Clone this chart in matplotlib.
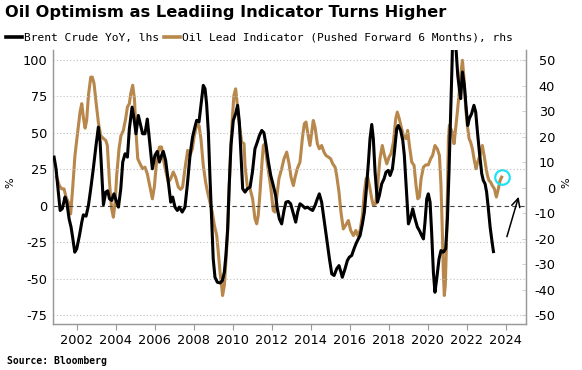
import matplotlib
matplotlib.use("Agg")
import matplotlib.pyplot as plt

plt.rcParams['font.family'] = ['DejaVu Sans']
plt.rcParams['axes.unicode_minus'] = False

# Brent crude YoY % (left axis)
brent_years = [2000.84, 2000.94, 2001.06, 2001.15, 2001.26, 2001.40, 2001.49, 2001.61, 2001.71, 2001.79,
               2001.90, 2002.00, 2002.14, 2002.26, 2002.34, 2002.48, 2002.60, 2002.72, 2002.85, 2002.99,
               2003.11, 2003.20, 2003.28, 2003.37, 2003.49, 2003.59, 2003.68, 2003.79, 2003.91, 2004.02,
               2004.14, 2004.26, 2004.36, 2004.48, 2004.60, 2004.70, 2004.84, 2004.94, 2005.04, 2005.16,
               2005.28, 2005.38, 2005.50, 2005.62, 2005.76, 2005.88, 2006.01, 2006.13, 2006.24, 2006.35,
               2006.44, 2006.56, 2006.70, 2006.82, 2006.92, 2007.04, 2007.16, 2007.26, 2007.41, 2007.55,
               2007.67, 2007.81, 2007.94, 2008.06, 2008.15, 2008.27, 2008.37, 2008.49, 2008.58, 2008.66,
               2008.75, 2008.83, 2008.92, 2009.00, 2009.09, 2009.21, 2009.35, 2009.47, 2009.57, 2009.65,
               2009.74, 2009.82, 2009.91, 2010.03, 2010.15, 2010.25, 2010.34, 2010.51, 2010.63, 2010.75,
               2010.89, 2011.01, 2011.14, 2011.26, 2011.37, 2011.49, 2011.60, 2011.71, 2011.83, 2011.95,
               2012.08, 2012.20, 2012.29, 2012.39, 2012.51, 2012.63, 2012.73, 2012.85, 2012.97, 2013.11,
               2013.23, 2013.33, 2013.45, 2013.57, 2013.71, 2013.83, 2013.96, 2014.10, 2014.22, 2014.34,
               2014.44, 2014.56, 2014.68, 2014.82, 2014.96, 2015.08, 2015.20, 2015.33, 2015.45, 2015.55,
               2015.62, 2015.76, 2015.88, 2015.98, 2016.10, 2016.22, 2016.32, 2016.44, 2016.53, 2016.65,
               2016.75, 2016.84, 2016.96, 2017.04, 2017.13, 2017.21, 2017.30, 2017.42, 2017.52, 2017.64,
               2017.76, 2017.86, 2017.98, 2018.07, 2018.19, 2018.29, 2018.41, 2018.49, 2018.61, 2018.72,
               2018.80, 2018.89, 2019.01, 2019.13, 2019.23, 2019.35, 2019.47, 2019.57, 2019.69, 2019.78,
               2019.86, 2019.95, 2020.03, 2020.12, 2020.20, 2020.29, 2020.37, 2020.46, 2020.58, 2020.68,
               2020.80, 2020.92, 2021.01, 2021.09, 2021.18, 2021.25, 2021.33, 2021.45, 2021.54, 2021.62,
               2021.69, 2021.78, 2021.88, 2021.96, 2022.05, 2022.13, 2022.25, 2022.37, 2022.46, 2022.55,
               2022.65, 2022.77, 2022.85, 2022.94, 2023.02, 2023.11, 2023.20, 2023.30, 2023.37]
brent_yoy = [33.4, 25.4, 9.4, -3.2, -2.0, 6.0, 2.5, -9.0, -14.6, -21.5,
             -31.8, -29.5, -20.4, -11.2, -6.2, -7.1, 0.2, 11.7, 25.4, 41.4,
             54.0, 43.7, 23.0, 0.7, 9.4, 10.3, 4.8, 3.7, 8.2, 3.7,
             -0.9, 11.7, 30.0, 35.7, 33.4, 52.9, 67.7, 59.7, 49.4, 62.0,
             55.1, 49.4, 49.4, 59.5, 41.4, 25.4, 34.6, 37.3, 30.0, 34.6,
             37.3, 31.1, 16.2, 2.5, 6.0, -0.9, -3.2, -0.9, -4.3, -0.9,
             14.0, 34.6, 47.1, 54.0, 58.6, 57.4, 68.9, 82.6, 80.3, 70.0,
             50.6, 20.8, -8.9, -36.4, -49.0, -52.4, -52.9, -51.3, -45.5, -34.0,
             -15.8, 14.0, 41.4, 58.6, 63.2, 68.9, 57.4, 11.7, 9.4, 11.7,
             12.8, 23.1, 39.1, 43.7, 48.3, 51.7, 50.1, 41.4, 30.0, 20.8,
             14.0, 7.1, -2.1, -8.9, -12.4, -3.2, 2.5, 3.0, 1.4, -5.5,
             -11.2, -4.3, 1.4, 0.2, -1.6, -0.9, -2.1, -3.2, 0.2, 4.8,
             8.2, 2.5, -8.9, -22.7, -36.4, -46.7, -47.8, -43.2, -41.0, -45.5,
             -49.0, -43.2, -37.5, -35.2, -34.1, -29.5, -26.1, -22.7, -20.4, -12.4,
             -4.3, 9.4, 30.0, 46.0, 55.8, 46.0, 23.1, 2.5, 7.1, 15.1,
             18.5, 23.1, 24.3, 20.8, 25.4, 36.8, 52.9, 55.1, 51.7, 44.9,
             34.6, 14.0, -12.4, -7.8, -2.1, -8.9, -14.6, -16.9, -20.4, -22.7,
             -11.2, 4.8, 8.2, 2.5, -18.0, -45.5, -59.3, -50.1, -36.4, -30.7,
             -31.8, -29.5, -8.9, 23.1, 64.3, 98.6, 150.0, 107.8, 89.5, 80.3,
             73.5, 91.8, 82.6, 68.9, 55.1, 59.7, 63.2, 68.9, 64.3, 50.6,
             36.8, 22.0, 17.4, 15.1, 9.4, -2.1, -14.6, -24.9, -31.4]

# Oil lead indicator, pushed forward 6 months (right axis)
lead_years = [2000.97, 2001.11, 2001.23, 2001.35, 2001.45, 2001.57, 2001.69, 2001.79, 2001.91, 2002.03,
              2002.17, 2002.26, 2002.34, 2002.43, 2002.51, 2002.60, 2002.72, 2002.80, 2002.89, 2002.99,
              2003.11, 2003.23, 2003.37, 2003.49, 2003.57, 2003.68, 2003.79, 2003.88, 2003.97, 2004.05,
              2004.17, 2004.27, 2004.39, 2004.51, 2004.60, 2004.70, 2004.77, 2004.87, 2004.96, 2005.04,
              2005.13, 2005.25, 2005.38, 2005.50, 2005.62, 2005.74, 2005.88, 2005.98, 2006.10, 2006.24,
              2006.35, 2006.44, 2006.56, 2006.70, 2006.82, 2006.95, 2007.07, 2007.21, 2007.33, 2007.43,
              2007.55, 2007.69, 2007.81, 2007.93, 2008.03, 2008.15, 2008.27, 2008.37, 2008.49, 2008.61,
              2008.71, 2008.83, 2008.95, 2009.06, 2009.18, 2009.26, 2009.35, 2009.43, 2009.48, 2009.57,
              2009.65, 2009.74, 2009.81, 2009.89, 2009.98, 2010.06, 2010.15, 2010.23, 2010.32, 2010.46,
              2010.58, 2010.63, 2010.75, 2010.89, 2011.02, 2011.14, 2011.23, 2011.31, 2011.40, 2011.49,
              2011.57, 2011.66, 2011.74, 2011.86, 2011.96, 2012.08, 2012.17, 2012.25, 2012.37, 2012.51,
              2012.63, 2012.77, 2012.89, 2012.99, 2013.11, 2013.20, 2013.31, 2013.45, 2013.57, 2013.67,
              2013.76, 2013.84, 2013.96, 2014.05, 2014.13, 2014.22, 2014.34, 2014.44, 2014.56, 2014.68,
              2014.78, 2014.90, 2015.02, 2015.13, 2015.25, 2015.33, 2015.45, 2015.55, 2015.67, 2015.79,
              2015.93, 2016.05, 2016.19, 2016.31, 2016.41, 2016.53, 2016.65, 2016.75, 2016.84, 2016.92,
              2017.01, 2017.13, 2017.21, 2017.33, 2017.43, 2017.55, 2017.67, 2017.78, 2017.90, 2018.02,
              2018.12, 2018.24, 2018.36, 2018.44, 2018.54, 2018.66, 2018.78, 2018.89, 2018.97, 2019.06,
              2019.18, 2019.30, 2019.40, 2019.49, 2019.57, 2019.66, 2019.78, 2019.90, 2020.03, 2020.15,
              2020.25, 2020.37, 2020.49, 2020.60, 2020.68, 2020.75, 2020.80, 2020.85, 2020.90, 2020.96,
              2021.01, 2021.06, 2021.11, 2021.18, 2021.26, 2021.35, 2021.43, 2021.52, 2021.60, 2021.69,
              2021.78, 2021.86, 2021.95, 2022.03, 2022.12, 2022.20, 2022.29, 2022.39, 2022.48, 2022.56,
              2022.68, 2022.80, 2022.89, 2022.97, 2023.06, 2023.14, 2023.23, 2023.31, 2023.42, 2023.52,
              2023.62, 2023.71, 2023.79]
lead_vals = [4.1, 0.8, -0.5, -0.5, -3.7, -5.7, -10.3, -0.5, 12.6, 20.4,
             29.6, 32.9, 27.6, 23.3, 26.3, 36.1, 43.3, 43.3, 40.7, 33.5,
             25.6, 20.4, 19.2, 18.5, 16.5, 2.1, -8.3, -11.6, -5.7, 4.8,
             15.2, 20.4, 22.4, 27.0, 31.6, 32.9, 36.8, 40.1, 34.8, 21.7,
             11.3, 9.3, 7.4, 8.0, 5.4, 0.8, -4.4, 0.2, 10.6, 15.9,
             15.9, 11.3, 6.7, 2.1, 3.5, 6.1, 4.1, 0.2, -0.7, 0.2,
             7.4, 14.6, 12.6, 15.2, 20.4, 24.4, 24.4, 19.2, 8.7, 2.1,
             -1.8, -5.7, -9.6, -14.8, -18.8, -25.3, -33.2, -38.4, -42.3, -38.4,
             -29.2, -17.5, -1.8, 13.9, 27.0, 36.1, 38.7, 32.9, 25.7, 17.8,
             17.2, 8.7, 0.2, -0.5, -4.4, -12.2, -14.2, -10.9, -1.8, 8.7,
             16.5, 17.2, 11.3, 4.8, -0.5, -9.0, -9.6, -4.4, 3.5, 7.4,
             11.3, 13.9, 9.3, 4.1, 0.8, 4.1, 7.4, 10.0, 19.2, 25.0,
             25.7, 21.7, 16.5, 21.7, 26.3, 23.7, 17.2, 15.2, 16.5, 13.9,
             12.6, 12.0, 11.3, 9.3, 8.0, 4.8, -1.8, -9.6, -16.2, -14.8,
             -12.9, -16.8, -18.8, -16.8, -18.8, -16.8, -10.9, -1.8, 3.5, 4.1,
             0.8, -4.4, -7.0, -6.3, 0.8, 11.3, 16.5, 12.6, 9.3, 12.0,
             13.3, 17.8, 27.0, 29.6, 27.0, 23.1, 19.8, 19.2, 22.4, 16.5,
             10.0, 8.7, 0.8, -4.4, -3.7, 3.5, 8.0, 8.9, 8.9, 11.3,
             12.6, 16.5, 15.2, 12.6, 0.8, -17.5, -33.2, -42.3, -38.4, -22.7,
             -0.5, 19.2, 24.4, 23.1, 21.7, 17.2, 23.1, 29.6, 36.1, 44.0,
             49.9, 42.7, 30.9, 24.4, 19.2, 17.8, 15.2, 10.6, 7.4, 10.0,
             12.6, 16.5, 12.6, 8.7, 4.8, 2.8, 2.1, 0.8, -0.5, -3.7,
             -0.5, 2.8, 4.1]

left_ticks = [100, 75, 50, 25, 0, -25, -50, -75]
right_ticks = [50, 40, 30, 20, 10, 0, -10, -20, -30, -40, -50]
year_ticks = list(range(2002, 2025, 2))

BROWN = '#b8874b'
GREY = '#9a9a9a'

fig = plt.figure(figsize=(5.82, 3.70), dpi=100)
ax = fig.add_axes([0.0906, 0.123, 0.9038 - 0.0906, 0.865 - 0.123])
ax2 = ax.twinx()
# black line sits on top of the brown one
ax.set_zorder(ax2.get_zorder() + 1)
ax.patch.set_visible(False)

lo, hi = -81.4, 106.9
ax.set_ylim(lo, hi)
ax2.set_ylim(-50 + (lo + 75) * 4 / 7, -50 + (hi + 75) * 4 / 7)
ax.set_xlim(2000.77, 2025.04)

for t in left_ticks:
    if t == 0:
        ax.axhline(0, color='#444444', lw=0.8, ls=(0, (4, 3)), zorder=1)
    else:
        ax.axhline(t, color='#c0c0c0', lw=0.8, ls=(0, (1, 2)), zorder=1)

ax2.plot(lead_years, lead_vals, color=BROWN, lw=2.2, solid_joinstyle='round')
ax.plot(brent_years, brent_yoy, color='black', lw=2.2, solid_joinstyle='round', zorder=3)

# highlight circle at the end of the lead indicator
ax2.plot([lead_years[-1]], [lead_vals[-1]], marker='o', ms=10.5, mfc='none',
         mec='#1fe3f2', mew=1.6, zorder=5)
ax.annotate('', xy=(2024.70, 8.0), xytext=(2024.02, -23.0),
            arrowprops=dict(arrowstyle='->,head_length=0.6,head_width=0.3', lw=1.1, color='black'))

ax.set_yticks(left_ticks)
ax.set_yticklabels([str(t) for t in left_ticks])
ax2.set_yticks(right_ticks)
ax2.set_yticklabels([str(t) for t in right_ticks], ha='right')
ax.set_xticks(year_ticks)
ax.set_xticklabels([str(y) for y in year_ticks])

ax.tick_params(axis='y', length=0, pad=4, labelsize=9.3, colors='black')
ax2.tick_params(axis='y', direction='in', length=3, width=0.6, color='#cccccc',
                pad=21, labelsize=9.3, labelcolor='black')
ax.tick_params(axis='x', length=4, width=0.8, color=GREY, pad=3, labelsize=9.3)

for a in (ax, ax2):
    a.spines['top'].set_visible(False)
    for s in ('left', 'right', 'bottom'):
        a.spines[s].set_color(GREY)
        a.spines[s].set_linewidth(0.9)

fig.text(0.018, 0.505, '%', rotation=90, fontsize=8, ha='center', va='center')
fig.text(0.974, 0.505, '%', rotation=90, fontsize=8, ha='center', va='center')

fig.text(0.008, 0.965, 'Oil Optimism as Leadiing Indicator Turns Higher',
         fontsize=11.7, fontweight='bold', ha='left', va='center')

h1, = ax.plot([], [], color='black', lw=2.6)
h2, = ax.plot([], [], color=BROWN, lw=2.6)
fig.legend([h1, h2], ['Brent Crude YoY, lhs', 'Oil Lead Indicator (Pushed Forward 6 Months), rhs'],
           loc='center left', bbox_to_anchor=(0.007, 0.898), ncol=2, frameon=False,
           prop={'family': 'DejaVu Sans Mono', 'size': 8.1},
           handlelength=1.4, handletextpad=0.2, columnspacing=0.4, borderaxespad=0, borderpad=0.2)

fig.text(0.012, 0.024, 'Source: Bloomberg', fontsize=7, fontweight='bold',
         family='DejaVu Sans Mono', ha='left', va='center')

fig.savefig('out.png', dpi=100)
